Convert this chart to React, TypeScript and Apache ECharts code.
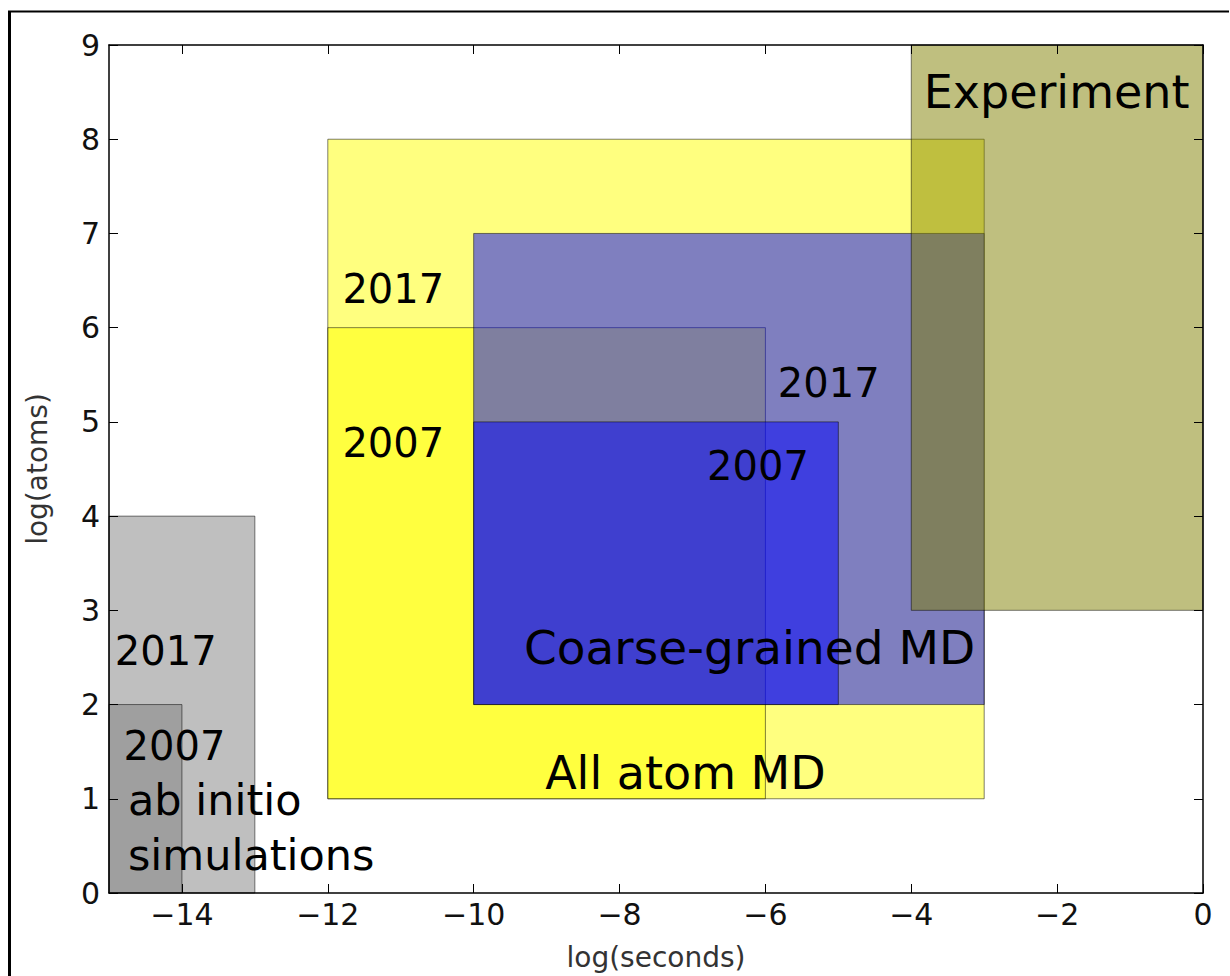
import React, { useEffect, useRef } from "react";
import * as echarts from "echarts";

// Boxes: [xStart, xEnd] in log(seconds), [yStart, yEnd] in log(atoms)
const boxNames = [
  "ab initio 2017",
  "ab initio 2007",
  "All atom MD 2017",
  "All atom MD 2007",
  "Coarse-grained MD 2017",
  "Coarse-grained MD 2007",
  "Experiment",
];
const boxX0 = [-15, -15, -12, -12, -10, -10, -4];
const boxX1 = [-13, -14, -3, -6, -3, -5, 0];
const boxY0 = [0, 0, 1, 1, 2, 2, 3];
const boxY1 = [4, 2, 8, 6, 7, 5, 9];
const boxColors = [
  "rgba(128,128,128,0.5)",
  "rgba(128,128,128,0.5)",
  "rgba(255,255,0,0.5)",
  "rgba(255,255,0,0.5)",
  "rgba(0,0,255,0.5)",
  "rgba(0,0,255,0.5)",
  "rgba(128,128,0,0.5)",
];

// Text labels anchored (left, baseline) at data coordinates
const labelTexts = [
  "2017",
  "2007",
  "ab initio",
  "simulations",
  "2017",
  "2007",
  "All atom MD",
  "2017",
  "2007",
  "Coarse-grained MD",
  "Experiment",
];
const labelX = [-14.92, -14.8, -14.74, -14.74, -11.8, -11.8, -9.02, -5.83, -6.8, -9.31, -3.83];
const labelY = [2.42, 1.41, 0.83, 0.24, 6.26, 4.63, 1.1, 5.26, 4.38, 2.43, 8.33];
const labelKind = [0, 0, 2, 2, 0, 0, 1, 0, 0, 3, 1];
const kindSizes = [40, 46, 43, 47];

const xTicks = [-14, -12, -10, -8, -6, -4, -2, 0];
const xMin = -15;
const xMax = 0;
const yMin = 0;
const yMax = 9;

const FONT = "'DejaVu Sans', sans-serif";

export default function App() {
  const ref = useRef<HTMLDivElement>(null);

  useEffect(() => {
    if (!ref.current) return;
    const chart = echarts.init(ref.current, undefined, { renderer: "svg" });

    const boxData = boxNames.map((n, i) => ({
      name: n,
      value: [boxX0[i], boxX1[i], boxY0[i], boxY1[i]],
    }));
    const labelData = labelTexts.map((t, i) => ({
      name: t,
      value: [labelX[i], labelY[i], labelKind[i]],
    }));

    const fmt = (v: number) => String(v).replace("-", "\u2212");

    const axisCommon = {
      z: 10,
      axisLine: { show: true, onZero: false, lineStyle: { color: "#000", width: 1.5 } },
      axisTick: { show: true, inside: true, length: 9, lineStyle: { color: "#000", width: 1 } },
      splitLine: { show: false },
    };

    chart.setOption({
      animation: false,
      backgroundColor: "#fff",
      grid: { left: 109, right: 27, top: 45, bottom: 83, containLabel: false },
      xAxis: [
        {
          ...axisCommon,
          type: "value",
          position: "bottom",
          min: xMin,
          max: xMax,
          axisTick: { ...axisCommon.axisTick, customValues: xTicks },
          axisLabel: {
            customValues: xTicks,
            formatter: fmt,
            fontSize: 30,
            fontFamily: FONT,
            color: "#111",
            margin: 6,
          },
          name: "log(seconds)",
          nameLocation: "middle",
          nameGap: 50,
          nameTextStyle: { fontSize: 28, fontFamily: FONT, color: "#333" },
        },
        {
          ...axisCommon,
          type: "value",
          position: "top",
          min: xMin,
          max: xMax,
          axisTick: { ...axisCommon.axisTick, customValues: xTicks },
          axisLabel: { show: false },
        },
      ],
      yAxis: [
        {
          ...axisCommon,
          type: "value",
          position: "left",
          min: yMin,
          max: yMax,
          interval: 1,
          axisLabel: {
            formatter: fmt,
            fontSize: 30,
            fontFamily: FONT,
            color: "#111",
            margin: 9,
          },
          name: "log(atoms)",
          nameLocation: "middle",
          nameGap: 58,
          nameRotate: 90,
          nameTextStyle: { fontSize: 28, fontFamily: FONT, color: "#333" },
        },
        {
          ...axisCommon,
          type: "value",
          position: "right",
          min: yMin,
          max: yMax,
          interval: 1,
          axisLabel: { show: false },
        },
      ],
      graphic: [
        {
          type: "line",
          shape: { x1: 9.5, y1: 11, x2: 9.5, y2: 976 },
          style: { stroke: "#000", lineWidth: 3 },
          z: 100,
        },
        {
          type: "line",
          shape: { x1: 8, y1: 11.5, x2: 1229, y2: 11.5 },
          style: { stroke: "#000", lineWidth: 2 },
          z: 100,
        },
      ],
      series: [
        {
          type: "custom",
          name: "boxes",
          z: 2,
          xAxisIndex: 0,
          yAxisIndex: 0,
          encode: { x: [0, 1], y: [2, 3] },
          data: boxData,
          renderItem: (params: any, api: any) => {
            const p0 = api.coord([api.value(0), api.value(2)]);
            const p1 = api.coord([api.value(1), api.value(3)]);
            return {
              type: "rect",
              shape: {
                x: p0[0],
                y: p1[1],
                width: p1[0] - p0[0],
                height: p0[1] - p1[1],
              },
              style: {
                fill: boxColors[params.dataIndex],
                stroke: "rgba(0,0,0,0.5)",
                lineWidth: 1,
              },
            };
          },
        },
        {
          type: "custom",
          name: "labels",
          z: 4,
          xAxisIndex: 0,
          yAxisIndex: 0,
          encode: { x: 0, y: 1 },
          data: labelData,
          renderItem: (params: any, api: any) => {
            const p = api.coord([api.value(0), api.value(1)]);
            const size = kindSizes[api.value(2)];
            return {
              type: "text",
              x: p[0],
              y: p[1] - 0.35 * size,
              style: {
                text: labelTexts[params.dataIndex],
                fill: "#000",
                fontSize: size,
                fontFamily: FONT,
                align: "left",
                verticalAlign: "middle",
              },
            };
          },
        },
      ],
    });

    return () => chart.dispose();
  }, []);

  return (
    <div
      ref={ref}
      style={{ position: "absolute", left: 0, top: 0, width: 1230, height: 976 }}
    />
  );
}
